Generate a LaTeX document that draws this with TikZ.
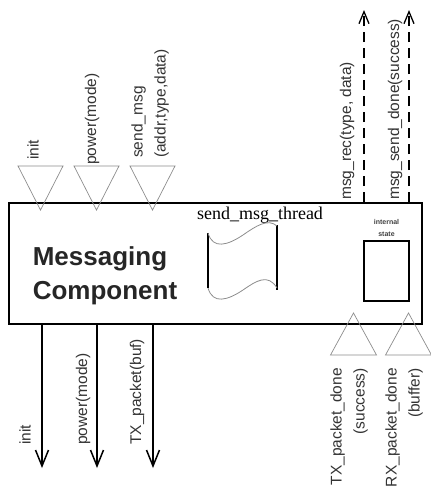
\documentclass[tikz,border=0pt]{standalone}
\usepackage{fontspec}
\setmainfont{Liberation Serif}
\setsansfont{Liberation Sans}
\usetikzlibrary{arrows.meta,positioning}
\begin{document}
\begin{tikzpicture}[x=1pt, y=-1pt,
    lbl/.style={font=\sffamily\fontsize{15.5}{23}\selectfont, text=black!80, inner sep=0pt, rotate=90},
    port/.style={draw=black!45, line width=0.7pt},
    sig/.style={line width=1.5pt, -{Straight Barb[length=16pt,width=13pt]}},
    evt/.style={line width=1.3pt, dash pattern=on 10pt off 6pt, -{Straight Barb[length=12pt,width=10pt]}}]
    \useasboundingbox (0,0) rectangle (431,491);
    % component
    \node[draw, line width=1.5pt, anchor=north west, minimum width=413pt, minimum height=121pt, inner sep=0pt] (comp) at (8,202) {};
    \node[font=\sffamily\bfseries\fontsize{26}{34}\selectfont, text=black!85, align=left, inner sep=0pt] (name) at (105,276) {Messaging\\Component};
    % thread
    \node[font=\fontsize{18}{20}\selectfont, inner sep=0pt, anchor=base] (thr) at (260,219) {send\_msg\_thread};
    \draw[line width=1.2pt] (208,233) -- (208,288);
    \draw[line width=1.2pt] (277,225) -- (277,290);
    \draw[black!45, line width=0.8pt] (208,233) .. controls (213,250) and (228,245) .. (243,235) .. controls (256,226) and (268,218) .. (277,226);
    \draw[black!45, line width=0.8pt] (208,288) .. controls (213,305) and (228,300) .. (243,290) .. controls (256,281) and (268,273) .. (277,288);
    % internal state
    \node[draw, line width=1.6pt, minimum width=45pt, minimum height=60pt, inner sep=0pt] (st) at (386.5,271) {};
    \node[font=\sffamily\bfseries\fontsize{7}{12}\selectfont, text=black!75, align=center, inner sep=0pt, above=3pt of st] (stlbl) {internal\\state};
    % ports
    \foreach \x in {40.5,96.5,152.5}
        \draw[port] ({\x-22.5},166) -- ({\x+22.5},166) -- (\x,210) -- cycle;
    \foreach \x in {353.5,408.5}
        \draw[port] ({\x-23},355) -- ({\x+23},355) -- (\x,313) -- cycle;
    % calls and events
    \coordinate (o1) at (42,468);
    \coordinate (o2) at (97,468);
    \coordinate (o3) at (153,468);
    \coordinate (e1) at (364,10);
    \coordinate (e2) at (409,10);
    \foreach \i in {1,2,3}
        \draw[sig] (comp.south -| o\i) -- (o\i);
    \foreach \i in {1,2}
        \draw[evt] (comp.north -| e\i) -- (e\i);
    % labels
    \node[lbl, anchor=west] (in1) at (33,160) {init};
    \node[lbl, anchor=west] (in2) at (92,165) {power(mode)};
    \node[lbl, anchor=west, align=left] (in3) at (150,158) {send\_msg\\(addr,type,data)};
    \node[lbl, anchor=west] (ev1) at (347,200) {msg\_rec(type, data)};
    \node[lbl, anchor=west] (ev2) at (395,200) {msg\_send\_done(success)};
    \node[lbl, anchor=west] (out1) at (25,445) {init};
    \node[lbl, anchor=west] (out2) at (83,445) {power(mode)};
    \node[lbl, anchor=west] (out3) at (137,445) {TX\_packet(buf)};
    \node[lbl, anchor=east, align=right] (dn1) at (349,368) {TX\_packet\_done\\(success)};
    \node[lbl, anchor=east, align=right] (dn2) at (404,368) {RX\_packet\_done\\(buffer)};
\end{tikzpicture}
\end{document}
